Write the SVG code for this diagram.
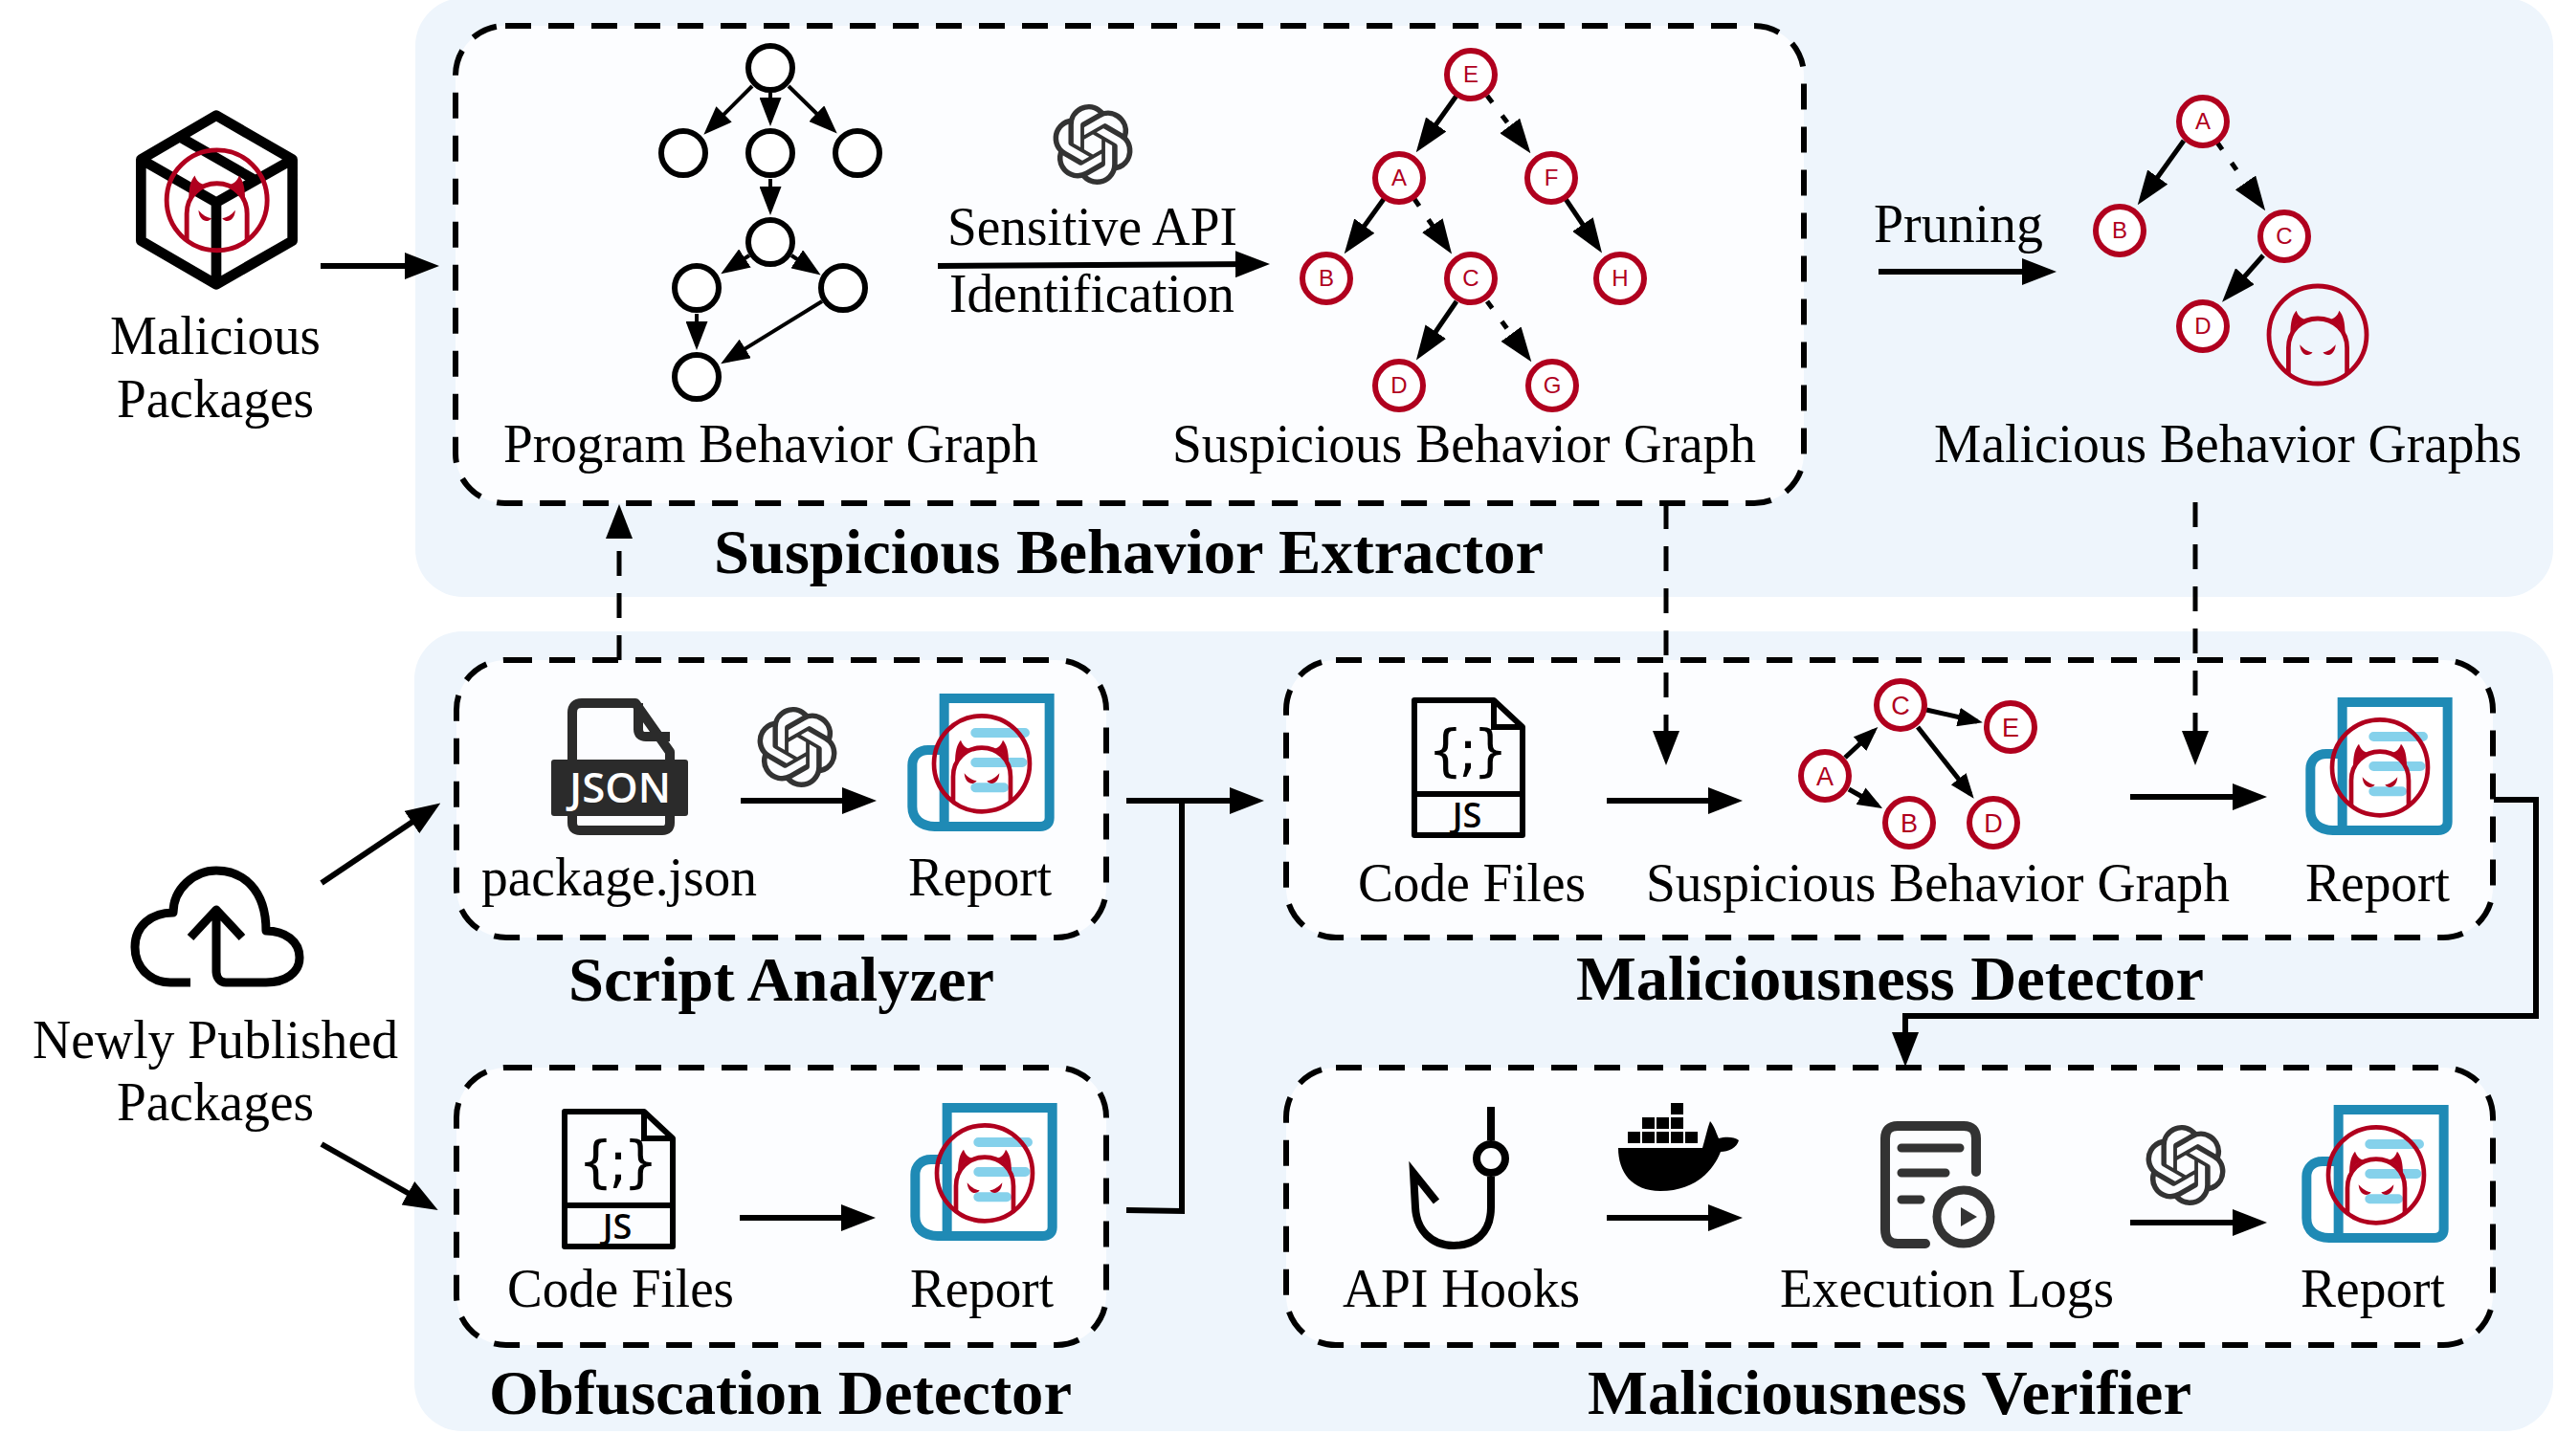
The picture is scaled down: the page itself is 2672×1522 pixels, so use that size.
<svg xmlns="http://www.w3.org/2000/svg" xmlns:xlink="http://www.w3.org/1999/xlink" width="2672" height="1522" viewBox="0 0 2672 1522">
<style>
.panel{fill:#EEF5FC}
.box{fill:#FCFDFF;stroke:#000;stroke-width:6;stroke-dasharray:27 18}
.t{font-family:"Liberation Serif",serif;font-size:56px;fill:#000}
.h{font-family:"Liberation Serif",serif;font-size:65px;font-weight:bold;fill:#000}
.c{fill:none;stroke:#000;stroke-width:6}
.cd{fill:none;stroke:#000;stroke-width:5;stroke-dasharray:26 18}
.s{fill:none;stroke:#000;stroke-width:4;marker-end:url(#sm)}
.g{fill:none;stroke:#000;stroke-width:5;marker-end:url(#rd)}
.gd{fill:none;stroke:#000;stroke-width:5;stroke-dasharray:9 17;marker-end:url(#rd)}
.g2{fill:none;stroke:#000;stroke-width:5;marker-end:url(#rd2)}
.b{fill:#fff;stroke:#000;stroke-width:6}
.rn{fill:#fff;stroke:#B0001E;stroke-width:6}
.rt{font-family:"Liberation Sans",sans-serif;font-size:24px;fill:#B0001E;text-anchor:middle}
.rt2{font-family:"Liberation Sans",sans-serif;font-size:27px;fill:#B0001E;text-anchor:middle}
.d{fill:none;stroke:#B0001E}
.df{fill:#B0001E}
</style>
<defs>
<marker id="lg" markerUnits="userSpaceOnUse" markerWidth="36" markerHeight="28" refX="26" refY="14" orient="auto"><path d="M0,0L36,14L0,28Z" fill="#000"/></marker>
<marker id="sm" markerUnits="userSpaceOnUse" markerWidth="30" markerHeight="23" refX="22" refY="11.5" orient="auto"><path d="M0,0L30,11.5L0,23Z" fill="#000"/></marker>
<marker id="rd" markerUnits="userSpaceOnUse" markerWidth="36" markerHeight="26" refX="27" refY="13" orient="auto"><path d="M0,0L36,13L0,26Z" fill="#000"/></marker>
<marker id="rd2" markerUnits="userSpaceOnUse" markerWidth="26" markerHeight="20" refX="20" refY="10" orient="auto"><path d="M0,0L26,10L0,20Z" fill="#000"/></marker>
<g id="devil">
<circle class="d" r="150" stroke-width="14"/>
<path class="d" stroke-width="14" d="M-90,122V40C-90,-12 -50,-50 0,-50C50,-50 90,-12 90,40V122"/>
<path class="df" d="M-84,0C-84,-40 -78,-60 -66,-74C-60,-56 -50,-50 -36,-46C-60,-40 -76,-24 -84,0Z"/>
<path class="df" d="M84,0C84,-40 78,-60 66,-74C60,-56 50,-50 36,-46C60,-40 76,-24 84,0Z"/>
<path class="df" d="M-55,30C-42,45 -30,52 -16,54C-26,68 -52,66 -55,30Z"/>
<path class="df" d="M55,30C42,45 30,52 16,54C26,68 52,66 55,30Z"/>
</g>
<g id="report">
<path d="M200,90H530V465C530,482 520,492 500,492H170C130,492 100,470 100,430V300C100,272 120,252 150,252H200Z" fill="#fff"/>
<path d="M185,252H150C120,252 100,272 100,300V430C100,470 130,492 170,492H500C520,492 530,482 530,465V90H200V492" fill="none" stroke="#1F8AB5" stroke-width="30"/>
<path d="M298,198H453M298,291H445M298,370H387" fill="none" stroke="#85D1EB" stroke-width="30" stroke-linecap="round"/>
<use xlink:href="#devil" href="#devil" transform="translate(318,295)"/>
</g>
<g id="jsfile">
<path d="M673,1162H590V1303H703V1190Z" fill="none" stroke="#000" stroke-width="6" stroke-linejoin="round"/>
<path d="M673,1162V1190H703M590,1260H703" fill="none" stroke="#000" stroke-width="6"/>
<text x="646" y="1235" font-family="DejaVu Sans,sans-serif" font-size="58" text-anchor="middle" textLength="84" lengthAdjust="spacing" fill="#000">{;}</text>
<text x="645" y="1295" font-family="Open Sans,sans-serif" font-size="36" font-weight="600" text-anchor="middle" fill="#000">JS</text>
</g>
<path id="gpt" fill="#333" d="M22.2819 9.8211a5.9847 5.9847 0 0 0-.5157-4.9108 6.0462 6.0462 0 0 0-6.5098-2.9A6.0651 6.0651 0 0 0 4.9807 4.1818a5.9847 5.9847 0 0 0-3.9977 2.9 6.0462 6.0462 0 0 0 .7427 7.0966 5.98 5.98 0 0 0 .511 4.9107 6.051 6.051 0 0 0 6.5146 2.9001A5.9847 5.9847 0 0 0 13.2599 24a6.0557 6.0557 0 0 0 5.7718-4.2058 5.9894 5.9894 0 0 0 3.9977-2.9001 6.0557 6.0557 0 0 0-.7475-7.0729zm-9.022 12.6081a4.4755 4.4755 0 0 1-2.8764-1.0408l.1419-.0804 4.7783-2.7582a.7948.7948 0 0 0 .3927-.6813v-6.7369l2.02 1.1686a.071.071 0 0 1 .038.052v5.5826a4.504 4.504 0 0 1-4.4945 4.4944zm-9.6607-4.1254a4.4708 4.4708 0 0 1-.5346-3.0137l.142.0852 4.783 2.7582a.7712.7712 0 0 0 .7806 0l5.8428-3.3685v2.3324a.0804.0804 0 0 1-.0332.0615L9.74 19.9502a4.4992 4.4992 0 0 1-6.1408-1.6464zM2.3408 7.8956a4.485 4.485 0 0 1 2.3655-1.9728V11.6a.7664.7664 0 0 0 .3879.6765l5.8144 3.3543-2.0201 1.1685a.0757.0757 0 0 1-.071 0l-4.8303-2.7865A4.504 4.504 0 0 1 2.3408 7.872zm16.5963 3.8558L13.1038 8.364 15.1192 7.2a.0757.0757 0 0 1 .071 0l4.8303 2.7913a4.4944 4.4944 0 0 1-.6765 8.1042v-5.6772a.79.79 0 0 0-.407-.667zm2.0107-3.0231l-.142-.0852-4.7735-2.7818a.7759.7759 0 0 0-.7854 0L9.409 9.2297V6.8974a.0662.0662 0 0 1 .0284-.0615l4.8303-2.7866a4.4992 4.4992 0 0 1 6.6802 4.66zM8.3065 12.863l-2.02-1.1638a.0804.0804 0 0 1-.038-.0567V6.0742a4.4992 4.4992 0 0 1 7.3757-3.4537l-.142.0805L8.704 5.459a.7948.7948 0 0 0-.3927.6813zm1.0976-2.3654l2.602-1.4998 2.6069 1.4998v2.9994l-2.5974 1.4997-2.6067-1.4997Z"/>
</defs>

<g id="panels">
<rect class="panel" x="434" y="-2" width="2234" height="626" rx="50"/>
<rect class="panel" x="433" y="660" width="2235" height="836" rx="50"/>
</g>

<g id="boxes">
<rect id="box-extractor" class="box" x="476" y="27" width="1409" height="499" rx="52"/>
<rect id="box-script" class="box" x="477" y="690" width="679" height="290" rx="52"/>
<rect id="box-obfuscation" class="box" x="477" y="1116" width="679" height="290" rx="52"/>
<rect id="box-detector" class="box" x="1344" y="690" width="1261" height="290" rx="52"/>
<rect id="box-verifier" class="box" x="1344" y="1116" width="1261" height="290" rx="52"/>
</g>

<g id="connectors">
<path class="c" d="M335,278H449" marker-end="url(#lg)"/>
<path class="c" d="M980,278L1317,276" marker-end="url(#lg)"/>
<path class="c" d="M1963,284H2139" marker-end="url(#lg)"/>
<path class="c" d="M336,923L452,845" marker-end="url(#lg)"/>
<path class="c" d="M336,1196L449,1260" marker-end="url(#lg)"/>
<path class="cd" d="M647,690V537" marker-end="url(#lg)"/>
<path class="cd" d="M1741,527V790" marker-end="url(#lg)"/>
<path class="cd" d="M2294,525V790" marker-end="url(#lg)"/>
<path class="c" d="M774,837H906" marker-end="url(#lg)"/>
<path class="c" d="M773,1273H905" marker-end="url(#lg)"/>
<path class="c" d="M1177,837H1311" marker-end="url(#lg)"/>
<path class="c" d="M1177,1265L1235,1266V837"/>
<path class="c" d="M1679,837H1811" marker-end="url(#lg)"/>
<path class="c" d="M2226,833H2359" marker-end="url(#lg)"/>
<path class="c" d="M2606,836H2650V1062H1991V1105" marker-end="url(#lg)"/>
<path class="c" d="M1679,1273H1811" marker-end="url(#lg)"/>
<path class="c" d="M2226,1278H2359" marker-end="url(#lg)"/>
<path class="s" d="M786,90L741,135"/>
<path class="s" d="M805,97V124"/>
<path class="s" d="M824,90L869,134"/>
<path class="s" d="M805,187V217"/>
<path class="s" d="M783,267L760,282"/>
<path class="s" d="M827,267L851,283"/>
<path class="s" d="M728,328V358"/>
<path class="s" d="M859,315L760,376"/>
<path class="g" d="M1522,100L1485,152"/>
<path class="gd" d="M1554,100L1594,153"/>
<path class="g" d="M1446,208L1410,258"/>
<path class="gd" d="M1478,208L1512,258"/>
<path class="g" d="M1636,208L1669,257"/>
<path class="g" d="M1522,315L1485,369"/>
<path class="gd" d="M1554,315L1595,371"/>
<path class="g" d="M2282,147L2239,207"/>
<path class="gd" d="M2317,149L2362,213"/>
<path class="g" d="M2365,267L2328,309"/>
<path class="g2" d="M1928,792L1958,764"/>
<path class="g2" d="M2013,742L2066,754"/>
<path class="g2" d="M1932,825L1962,842"/>
<path class="g2" d="M2004,760L2059,830"/>
</g>

<g id="malicious-packages">
<g transform="translate(120,100) scale(.3333)">
<path d="M318,62L557,200V455L318,592L82,455V200ZM82,200L318,335L557,200M318,335V592M205,130L440,265" fill="none" stroke="#000" stroke-width="32" stroke-linejoin="round"/>
<use xlink:href="#devil" href="#devil" transform="translate(320,328) scale(1.05)"/>
</g>
<text class="t" x="115" y="370" textLength="220" lengthAdjust="spacingAndGlyphs">Malicious</text>
<text class="t" x="122" y="436" textLength="206" lengthAdjust="spacingAndGlyphs">Packages</text>
</g>

<g id="program-behavior-graph">
<circle class="b" cx="805" cy="71" r="23"/>
<circle class="b" cx="714" cy="160" r="23"/>
<circle class="b" cx="805" cy="160" r="23"/>
<circle class="b" cx="896" cy="160" r="23"/>
<circle class="b" cx="805" cy="253" r="23"/>
<circle class="b" cx="728" cy="301" r="23"/>
<circle class="b" cx="881" cy="301" r="23"/>
<circle class="b" cx="728" cy="394" r="23"/>
<text class="t" x="526" y="483" textLength="559" lengthAdjust="spacingAndGlyphs">Program Behavior Graph</text>
</g>

<g id="sensitive-api">
<use xlink:href="#gpt" href="#gpt" transform="translate(1100,109) scale(3.5)"/>
<text class="t" x="990" y="256" textLength="303" lengthAdjust="spacingAndGlyphs">Sensitive API</text>
<text class="t" x="992" y="326" textLength="298" lengthAdjust="spacingAndGlyphs">Identification</text>
</g>

<g id="suspicious-behavior-graph">
<circle class="rn" cx="1537" cy="78" r="25"/><text class="rt" x="1537" y="86">E</text>
<circle class="rn" cx="1462" cy="186" r="25"/><text class="rt" x="1462" y="194">A</text>
<circle class="rn" cx="1621" cy="186" r="25"/><text class="rt" x="1621" y="194">F</text>
<circle class="rn" cx="1386" cy="291" r="25"/><text class="rt" x="1386" y="299">B</text>
<circle class="rn" cx="1537" cy="291" r="25"/><text class="rt" x="1537" y="299">C</text>
<circle class="rn" cx="1693" cy="291" r="25"/><text class="rt" x="1693" y="299">H</text>
<circle class="rn" cx="1462" cy="403" r="25"/><text class="rt" x="1462" y="411">D</text>
<circle class="rn" cx="1622" cy="403" r="25"/><text class="rt" x="1622" y="411">G</text>
<text class="t" x="1225" y="483" textLength="610" lengthAdjust="spacingAndGlyphs">Suspicious Behavior Graph</text>
</g>

<g id="pruning"><text class="t" x="1958" y="253" textLength="177" lengthAdjust="spacingAndGlyphs">Pruning</text></g>

<g id="malicious-behavior-graphs">
<circle class="rn" cx="2302" cy="127" r="25"/><text class="rt" x="2302" y="135">A</text>
<circle class="rn" cx="2215" cy="241" r="25"/><text class="rt" x="2215" y="249">B</text>
<circle class="rn" cx="2387" cy="247" r="25"/><text class="rt" x="2387" y="255">C</text>
<circle class="rn" cx="2302" cy="341" r="25"/><text class="rt" x="2302" y="349">D</text>
<use xlink:href="#devil" href="#devil" transform="translate(2422,350) scale(.34)"/>
<text class="t" x="2021" y="483" textLength="614" lengthAdjust="spacingAndGlyphs">Malicious Behavior Graphs</text>
</g>

<g id="extractor-title"><text class="h" x="746" y="599" textLength="867" lengthAdjust="spacingAndGlyphs">Suspicious Behavior Extractor</text></g>

<g id="newly-published">
<path d="M199,1027H178C158,1027 141,1012 141,990C141,968 158,954 181,954C181,929 203,910 226,910C253,910 278,929 278,973C298,973 313,984 313,1001C313,1017 298,1027 278,1027H236C230,1027 226,1022 226,1015V951M199,980L226,951L253,980" fill="none" stroke="#000" stroke-width="9" stroke-linejoin="round"/>
<text class="t" x="34" y="1106" textLength="382" lengthAdjust="spacingAndGlyphs">Newly Published</text>
<text class="t" x="122" y="1171" textLength="206" lengthAdjust="spacingAndGlyphs">Packages</text>
</g>

<g id="script-analyzer">
<path d="M598,794V745Q598,735 608,735H664L700,786V794M667,735V762Q667,770 675,770H700M598,853V860Q598,868 606,868H692Q700,868 700,860V853" fill="none" stroke="#2B2B2B" stroke-width="10" stroke-linejoin="round"/>
<rect x="576" y="794" width="143" height="59" rx="3" fill="#2B2B2B"/>
<text x="595" y="839" font-family="Open Sans,sans-serif" font-weight="600" font-size="44" textLength="106" lengthAdjust="spacingAndGlyphs" fill="#fff">JSON</text>
<text class="t" x="503" y="936" textLength="288" lengthAdjust="spacingAndGlyphs">package.json</text>
<use xlink:href="#gpt" href="#gpt" transform="translate(791,739) scale(3.5)"/>
<use xlink:href="#report" href="#report" transform="translate(920,700) scale(.3333)"/>
<text class="t" x="949" y="936" textLength="150" lengthAdjust="spacingAndGlyphs">Report</text>
<text class="h" x="594" y="1046" textLength="445" lengthAdjust="spacingAndGlyphs">Script Analyzer</text>
</g>

<g id="obfuscation-detector">
<use xlink:href="#jsfile" href="#jsfile"/>
<text class="t" x="530" y="1366" textLength="237" lengthAdjust="spacingAndGlyphs">Code Files</text>
<use xlink:href="#report" href="#report" transform="translate(923,1128) scale(.3333)"/>
<text class="t" x="951" y="1366" textLength="150" lengthAdjust="spacingAndGlyphs">Report</text>
<text class="h" x="511" y="1478" textLength="609" lengthAdjust="spacingAndGlyphs">Obfuscation Detector</text>
</g>

<g id="maliciousness-detector">
<use xlink:href="#jsfile" href="#jsfile" transform="translate(888,-430)"/>
<text class="t" x="1419" y="942" textLength="238" lengthAdjust="spacingAndGlyphs">Code Files</text>
<circle class="rn" cx="1907" cy="811" r="25"/><text class="rt2" x="1907" y="821">A</text>
<circle class="rn" cx="1986" cy="737" r="25"/><text class="rt2" x="1986" y="747">C</text>
<circle class="rn" cx="2101" cy="760" r="25"/><text class="rt2" x="2101" y="770">E</text>
<circle class="rn" cx="1995" cy="860" r="25"/><text class="rt2" x="1995" y="870">B</text>
<circle class="rn" cx="2083" cy="860" r="25"/><text class="rt2" x="2083" y="870">D</text>
<text class="t" x="1720" y="942" textLength="610" lengthAdjust="spacingAndGlyphs">Suspicious Behavior Graph</text>
<use xlink:href="#report" href="#report" transform="translate(2381,704) scale(.3333)"/>
<text class="t" x="2409" y="942" textLength="151" lengthAdjust="spacingAndGlyphs">Report</text>
<text class="h" x="1647" y="1045" textLength="656" lengthAdjust="spacingAndGlyphs">Maliciousness Detector</text>
</g>

<g id="maliciousness-verifier">
<path d="M1558,1157V1192M1558,1230V1262C1558,1290 1540,1302 1519,1302C1495,1302 1480,1285 1479,1262L1477,1226L1501,1256" fill="none" stroke="#000" stroke-width="8"/>
<circle cx="1558" cy="1211" r="15" fill="none" stroke="#000" stroke-width="8"/>
<text class="t" x="1403" y="1366" textLength="248" lengthAdjust="spacingAndGlyphs">API Hooks</text>
<path d="M1691,1200H1779C1782,1190 1784,1180 1787,1172C1792,1178 1794,1186 1796,1190C1803,1188 1812,1188 1817,1192C1815,1200 1806,1204 1798,1204C1790,1225 1770,1245 1735,1245C1705,1245 1691,1225 1691,1200Z" fill="#000"/>
<path d="M1701,1183h13v12h-13zM1716,1183h13v12h-13zM1731,1183h13v12h-13zM1746,1183h13v12h-13zM1761,1183h13v12h-13zM1716,1168h13v12h-13zM1731,1168h13v12h-13zM1746,1168h13v12h-13zM1746,1153h13v12h-13z" fill="#000"/>
<path d="M2065,1225V1190Q2065,1177 2052,1177H1983Q1970,1177 1970,1190V1285Q1970,1300 1983,1300H2012" fill="none" stroke="#333" stroke-width="10" stroke-linecap="round"/>
<path d="M1987,1200H2048M1987,1226H2033M1987,1254H2007" fill="none" stroke="#333" stroke-width="9" stroke-linecap="round"/>
<circle cx="2052" cy="1272" r="28" fill="#FCFDFF" stroke="#333" stroke-width="9"/>
<path d="M2049,1262L2066,1272L2049,1282Z" fill="#333"/>
<text class="t" x="1860" y="1366" textLength="349" lengthAdjust="spacingAndGlyphs">Execution Logs</text>
<use xlink:href="#gpt" href="#gpt" transform="translate(2242,1176) scale(3.5)"/>
<use xlink:href="#report" href="#report" transform="translate(2377,1130) scale(.3333)"/>
<text class="t" x="2404" y="1366" textLength="151" lengthAdjust="spacingAndGlyphs">Report</text>
<text class="h" x="1659" y="1478" textLength="631" lengthAdjust="spacingAndGlyphs">Maliciousness Verifier</text>
</g>
</svg>
